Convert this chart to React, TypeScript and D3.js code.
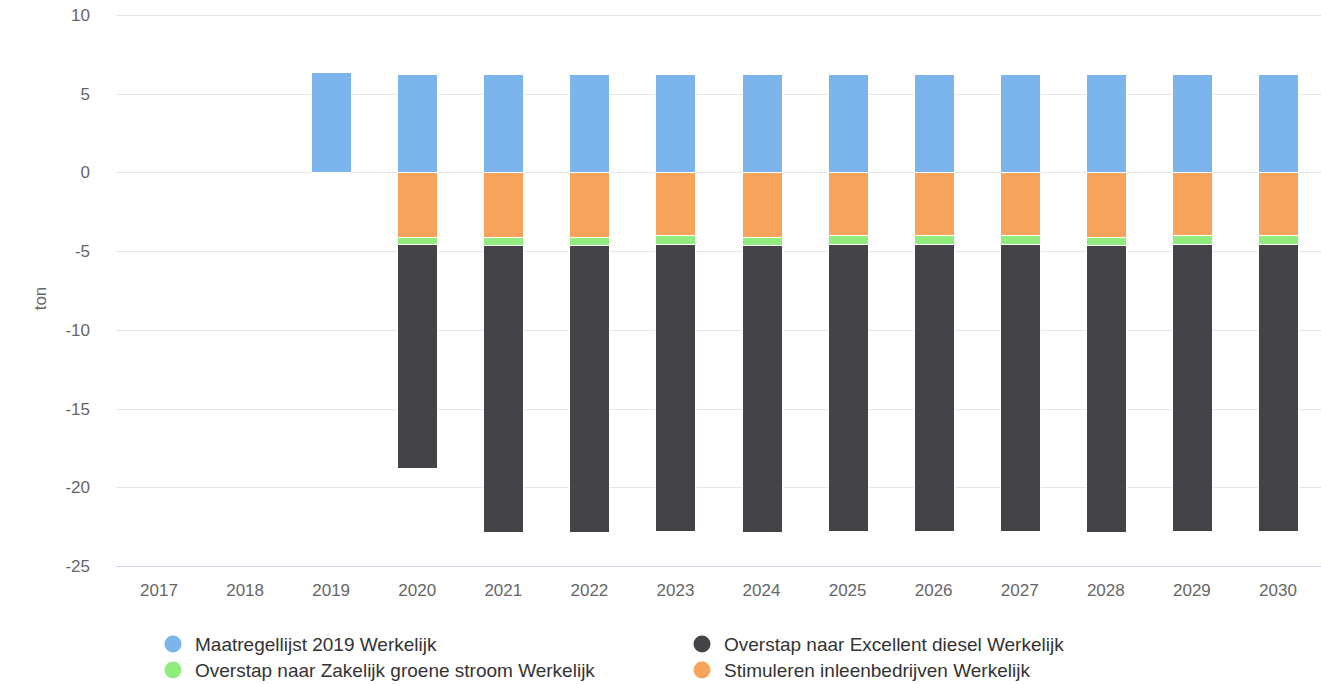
import React, { useEffect, useRef } from 'react'
import * as d3 from 'd3'

// jaren op de x-as
const years = ['2017', '2018', '2019', '2020', '2021', '2022', '2023', '2024', '2025', '2026', '2027', '2028', '2029', '2030']

// waarden per reeks (ton)
const maatregellijst = [0, 0, 6.36, 6.27, 6.27, 6.27, 6.27, 6.27, 6.27, 6.27, 6.27, 6.27, 6.27, 6.27]
const excellentDiesel = [0, 0, 0, -14.2, -18.25, -18.25, -18.2, -18.25, -18.2, -18.2, -18.2, -18.25, -18.2, -18.2]
const groeneStroom = [0, 0, 0, -0.45, -0.5, -0.5, -0.57, -0.5, -0.57, -0.57, -0.57, -0.5, -0.57, -0.57]
const inleenbedrijven = [0, 0, 0, -4.1, -4.1, -4.1, -3.98, -4.1, -3.98, -3.98, -3.98, -4.1, -3.98, -3.98]

const yTicks = [10, 5, 0, -5, -10, -15, -20, -25]

const series = [
  { key: 'blue', name: 'Maatregellijst 2019 Werkelijk', color: '#7cb5ec', values: maatregellijst },
  { key: 'dark', name: 'Overstap naar Excellent diesel Werkelijk', color: '#434348', values: excellentDiesel },
  { key: 'green', name: 'Overstap naar Zakelijk groene stroom Werkelijk', color: '#90ed7d', values: groeneStroom },
  { key: 'orange', name: 'Stimuleren inleenbedrijven Werkelijk', color: '#f7a35c', values: inleenbedrijven },
]

// volgorde van stapelen vanaf nul
const stackOrder = ['blue', 'orange', 'green', 'dark']

export default function App() {
  const ref = useRef<SVGSVGElement>(null)

  useEffect(() => {
    const width = 1321, height = 684
    const left = 116, right = 1321, top = 15, bottom = 566
    const font = '"Liberation Sans", Arial, sans-serif'

    const svg = d3.select(ref.current)
    svg.selectAll('*').remove()
    svg.attr('width', width).attr('height', height)
      .style('font-family', font)

    const x = d3.scaleBand<string>()
      .domain(years)
      .range([left, right])
      .paddingInner(0.535)
      .paddingOuter(0.2675)

    const y = d3.scaleLinear().domain([-25, 10]).range([bottom, top])

    // rasterlijnen
    svg.append('g')
      .selectAll('line')
      .data(yTicks)
      .enter()
      .append('line')
      .attr('x1', left)
      .attr('x2', right)
      .attr('y1', d => Math.round(y(d)) + 0.5)
      .attr('y2', d => Math.round(y(d)) + 0.5)
      .attr('stroke', '#e6e6e6')

    // y labels
    svg.append('g')
      .selectAll('text')
      .data(yTicks)
      .enter()
      .append('text')
      .attr('x', 90)
      .attr('y', d => y(d) + 6)
      .attr('text-anchor', 'end')
      .attr('font-size', 17)
      .attr('fill', '#666666')
      .text(d => String(d))

    svg.append('text')
      .attr('transform', `translate(46,${(top + bottom) / 2 + 8}) rotate(-90)`)
      .attr('text-anchor', 'middle')
      .attr('font-size', 17)
      .attr('fill', '#666666')
      .text('ton')

    // gestapelde kolommen
    const rows = years.map((yr, i) => {
      const row: any = { year: yr }
      series.forEach(s => { row[s.key] = s.values[i] })
      return row
    })
    const stacked = d3.stack<any>()
      .keys(stackOrder)
      .offset(d3.stackOffsetDiverging)(rows)

    stacked.forEach(layer => {
      const s = series.find(q => q.key === layer.key)!
      svg.append('g')
        .selectAll('rect')
        .data(layer.filter(d => d[1] - d[0] !== 0))
        .enter()
        .append('rect')
        .attr('x', d => Math.round(x(d.data.year)!) + 0.5)
        .attr('y', d => Math.round(y(d[1])) + 0.5)
        .attr('width', Math.round(x.bandwidth()))
        .attr('height', d => Math.max(0, Math.round(y(d[0])) - Math.round(y(d[1]))))
        .attr('fill', s.color)
        .attr('stroke', '#ffffff')
        .attr('stroke-width', 1)
    })

    // x-as
    svg.append('line')
      .attr('x1', left)
      .attr('x2', right)
      .attr('y1', bottom + 0.5)
      .attr('y2', bottom + 0.5)
      .attr('stroke', '#ccd6eb')

    svg.append('g')
      .selectAll('text')
      .data(years)
      .enter()
      .append('text')
      .attr('x', d => x(d)! + x.bandwidth() / 2)
      .attr('y', 596)
      .attr('text-anchor', 'middle')
      .attr('font-size', 17)
      .attr('fill', '#666666')
      .text(d => d)

    // legenda
    const legend = svg.append('g')
      .selectAll('g')
      .data(series)
      .enter()
      .append('g')
      .attr('transform', (d, i) => `translate(${i % 2 === 0 ? 173 : 702},${i < 2 ? 644 : 670})`)

    legend.append('circle')
      .attr('r', 8.5)
      .attr('cx', 0)
      .attr('cy', 0)
      .attr('fill', d => d.color)

    legend.append('text')
      .attr('x', 22)
      .attr('y', 7)
      .attr('font-size', 19)
      .attr('fill', '#333333')
      .text(d => d.name)
  }, [])

  return <svg ref={ref} style={{ display: 'block', position: 'absolute', left: 0, top: 0 }}></svg>
}
